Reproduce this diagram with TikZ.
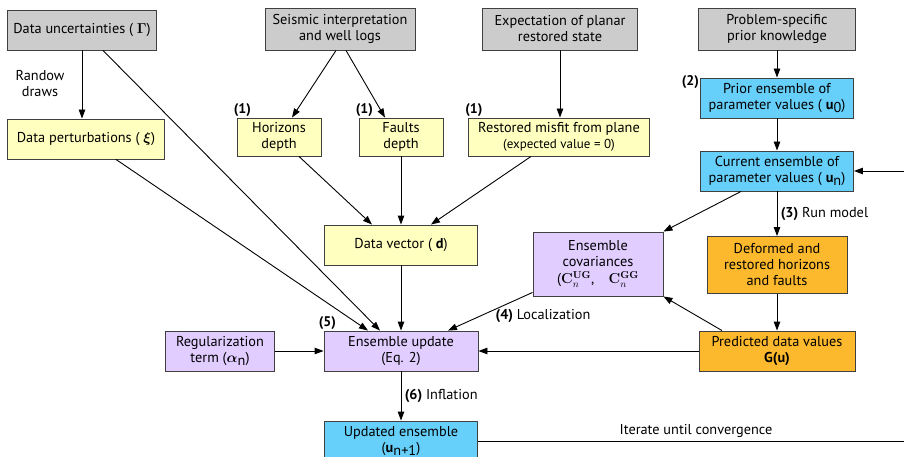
\documentclass[tikz,border=0pt]{standalone}
\usepackage[no-math]{fontspec}
\setmainfont{PT Sans}
\usepackage{amsmath}
\usetikzlibrary{arrows.meta, positioning}

\definecolor{inputgray}{RGB}{204,204,204}
\definecolor{datayellow}{RGB}{255,255,192}
\definecolor{parblue}{RGB}{102,207,250}
\definecolor{updlilac}{RGB}{225,205,255}
\definecolor{modelorange}{RGB}{253,185,45}

\newcommand{\lowsub}[1]{\raisebox{-0.5ex}{#1}}

\begin{document}
\begin{tikzpicture}[
    x=1pt, y=-1pt,
    font=\fontsize{14.3}{16}\selectfont,
    box/.style={rectangle, draw=black!75, line width=0.9pt, minimum height=40pt, minimum width=150pt, align=center, inner sep=2pt},
    arr/.style={-{Triangle[length=9pt,width=6.5pt]}, line width=0.9pt},
    numlab/.style={font=\fontsize{14}{16}\selectfont\bfseries, inner sep=1pt}
]
    \useasboundingbox (0,0) rectangle (904,457);

    % Inputs
    \node[box, fill=inputgray, minimum width=149pt] (uncert) at (82,30) {Data uncertainties ( $\boldsymbol{\Gamma}$)};
    \node[box, fill=inputgray, minimum height=42pt] (seismic) at (340,29) {Seismic interpretation\\and well logs};
    \node[box, fill=inputgray, minimum width=155pt, minimum height=42pt] (expect) at (560,29) {Expectation of planar\\restored state};
    \node[box, fill=inputgray, minimum width=157pt, minimum height=42pt] (knowledge) at (777,29) {Problem-specific\\prior knowledge};

    % Parameter ensembles
    \node[box, fill=parblue, minimum width=153pt] (prior) at (777,98) {Prior ensemble of\\parameter values ( \textbf{u}\lowsub{0})};
    \node[box, fill=parblue, minimum width=153pt] (current) at (777,171) {Current ensemble of\\parameter values ( \textbf{u}\lowsub{n})};

    % Data
    \node[box, fill=datayellow, minimum width=157pt] (perturb) at (86,139) {Data perturbations ( $\boldsymbol{\xi}$)};
    \node[box, fill=datayellow, minimum width=84pt, minimum height=38pt] (horizons) at (279,137) {Horizons\\depth};
    \node[box, fill=datayellow, minimum width=84pt, minimum height=38pt] (faults) at (401,137) {Faults\\depth};
    \node[box, fill=datayellow, minimum width=181pt, minimum height=38pt] (misfit) at (559,137) {Restored misfit from plane\\{\fontsize{13}{15}\selectfont(expected value = 0)}};
    \node[box, fill=datayellow, minimum width=153pt] (datavec) at (401,245) {Data vector ( \textbf{d})};

    % Model and update
    \node[box, fill=updlilac, minimum width=130pt, minimum height=64pt] (cov) at (598,264) {Ensemble\\covariances\\[1pt]($\mathbf{C}_n^{\mathbf{UG}}$,\quad $\mathbf{C}_n^{\mathbf{GG}}$};
    \node[box, fill=modelorange, minimum width=140pt, minimum height=57pt] (deformed) at (777,265) {Deformed and\\restored horizons\\and faults};
    \node[box, fill=modelorange, minimum width=156pt] (predicted) at (777,351) {Predicted data values\\\textbf{G(u)}};
    \node[box, fill=updlilac, minimum width=154pt] (update) at (401,351) {Ensemble update\\(Eq. 2)};
    \node[box, fill=updlilac, minimum width=109pt] (regular) at (220,351) {Regularization\\term ($\boldsymbol{\alpha}$\lowsub{n})};
    \node[box, fill=parblue, minimum width=153pt] (updated) at (401,441) {Updated ensemble\\(\textbf{u}\lowsub{n+1})};
    \coordinate (loopcorner) at (914,441);

    % Arrows
    \draw[arr] (uncert.south) -- (uncert.south |- perturb.north);
    \draw[arr] ([xshift=21pt]uncert.south) -- ([xshift=-21pt]update.north);
    \draw[arr] ([xshift=30pt]perturb.south) -- ([xshift=-33pt]update.north);
    \draw[arr] ([xshift=-4pt]seismic.south) -- ([xshift=13pt]horizons.north);
    \draw[arr] ([xshift=6pt]seismic.south) -- ([xshift=-16pt]faults.north);
    \draw[arr] (expect.south) -- (expect.south |- misfit.north);
    \draw[arr] (knowledge) -- (prior);
    \draw[arr] (prior) -- (current);
    \draw[arr] ([xshift=20pt]horizons.south) -- ([xshift=-29pt]datavec.north);
    \draw[arr] (faults) -- (datavec);
    \draw[arr] ([xshift=-28pt]misfit.south) -- ([xshift=30pt]datavec.north);
    \draw[arr] (datavec) -- (update);
    \draw[arr] ([xshift=-36pt]current.south) -- (cov.north east);
    \draw[arr] (current) -- (deformed) node[midway, right] {\textbf{(3)} Run model};
    \draw[arr] (deformed) -- (predicted);
    \draw[arr] ([xshift=-55pt]predicted.north) -- (cov.south east);
    \draw[arr] ([yshift=4pt]cov.south west) -- ([xshift=47pt]update.north);
    \draw[arr] (predicted) -- (update);
    \draw[arr] (regular) -- (update);
    \draw[arr] (update) -- (updated) node[midway, right] {\textbf{(6)} Inflation};
    \draw[arr] (updated.east) -- node[above] {Iterate until convergence} (loopcorner) |- (current.east);

    % Labels
    \node[align=center] (randlab) at (40,84) {Randow\\draws};
    \node[numlab, anchor=south west] (n1a) at ([xshift=-4pt]horizons.north west) {(1)};
    \node[numlab, anchor=south west] (n1b) at ([xshift=-4pt]faults.north west) {(1)};
    \node[numlab, anchor=south west] (n1c) at ([xshift=-4pt]misfit.north west) {(1)};
    \node[numlab, anchor=north east] (n2) at ([yshift=3pt]prior.north west) {(2)};
    \node[numlab, anchor=south west] (n5) at ([xshift=-6pt]update.north west) {(5)};
    \node (loclab) at (543,316) {\textbf{(4)} Localization};
\end{tikzpicture}
\end{document}
